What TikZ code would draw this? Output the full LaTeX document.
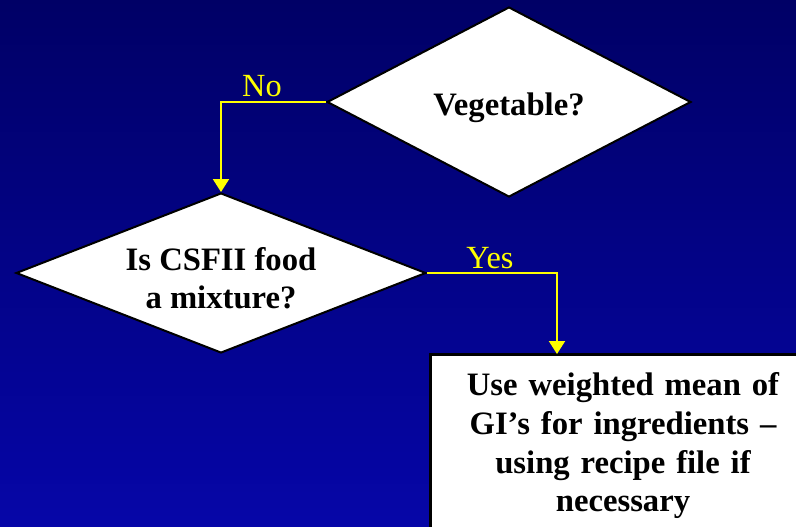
\documentclass[tikz,border=0pt]{standalone}
\usepackage{fontspec}
\setmainfont{Liberation Serif}
\usetikzlibrary{shapes.geometric,arrows.meta}
\definecolor{navytop}{RGB}{0,0,102}
\definecolor{navybottom}{RGB}{6,6,168}
\definecolor{flowyellow}{RGB}{255,255,0}

\begin{document}
\begin{tikzpicture}[x=0.02cm,y=-0.02cm,
    decision/.style={diamond,draw=black,line width=0.04cm,fill=white,inner sep=2pt,
      align=center,font=\fontsize{18.6}{21.4}\selectfont\bfseries},
    action/.style={rectangle,draw=black,line width=0.06cm,fill=white,align=center,
      text width=7.2cm,minimum width=7.72cm,minimum height=3.56cm,
      font=\fontsize{18.6}{22}\selectfont\bfseries},
    flow/.style={draw=flowyellow,line width=0.04cm,-{Triangle[length=0.26cm,width=0.32cm]}},
    answer/.style={text=flowyellow,font=\fontsize{18.4}{21}\selectfont,inner sep=1pt}]
  \useasboundingbox (0,0) rectangle (796,527);
  \shade[top color=navytop,bottom color=navybottom] (0,0) rectangle (796,527);
  \clip (0,0) rectangle (796,527);

  \node[decision,shape aspect=1.92,minimum width=7.28cm,minimum height=3.8cm] (veg) at (509,102) {\rule{0pt}{0.7cm}Vegetable?};
  \node[decision,shape aspect=2.56,minimum width=8.2cm,minimum height=3.2cm] (mix) at (221,273) {\rule{0pt}{0.66cm}Is CSFII food\\a mixture?};
  \node[action] (box) at (623,443) {\rule{0pt}{0.58cm}Use weighted mean of\\GI's for ingredients --\\using recipe file if\\necessary};

  \coordinate (yesend) at (557,354);
  \draw[flow] (veg.west) -| (mix.north);
  \draw[flow] (mix.east) -| (yesend);
  \node[answer,anchor=south] (no) at (262,99) {No};
  \node[answer,anchor=south] (yes) at (490,271) {Yes};
\end{tikzpicture}
\end{document}
